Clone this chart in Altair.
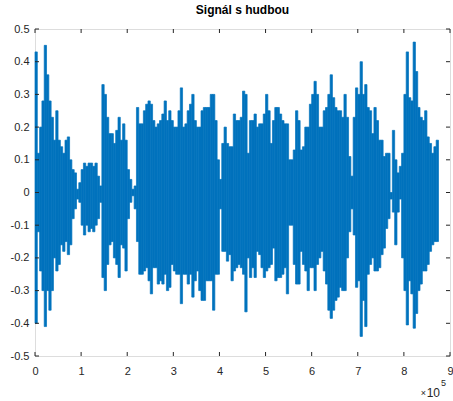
import altair as alt
import pandas as pd

# Envelope of the waveform, one reading per 5000 samples
SAMPLE_STEP = 5000
upper = [0.43, 0.12, 0.20, 0.28, 0.45, 0.36, 0.28, 0.23, 0.16, 0.25,
         0.16, 0.14, 0.12, 0.16, 0.17, 0.10, 0.07, 0.06, 0.01, 0.03,
         0.07, 0.09, 0.08, 0.09, 0.09, 0.08, 0.09, 0.05, 0.02, 0.33,
         0.30, 0.23, 0.18, 0.18, 0.15, 0.19, 0.23, 0.16, 0.21, 0.16,
         0.07, 0.04, 0.01, 0.02, 0.26, 0.21, 0.21, 0.25, 0.27, 0.28,
         0.27, 0.22, 0.20, 0.21, 0.22, 0.24, 0.28, 0.22, 0.25, 0.22,
         0.20, 0.20, 0.25, 0.32, 0.20, 0.21, 0.25, 0.27, 0.30, 0.22,
         0.20, 0.20, 0.25, 0.26, 0.26, 0.26, 0.30, 0.30, 0.22, 0.10,
         0.04, 0.15, 0.20, 0.15, 0.14, 0.14, 0.24, 0.22, 0.22, 0.23,
         0.31, 0.30, 0.12, 0.22, 0.22, 0.24, 0.20, 0.21, 0.21, 0.24,
         0.30, 0.25, 0.15, 0.22, 0.26, 0.26, 0.24, 0.22, 0.21, 0.21,
         0.10, 0.10, 0.13, 0.25, 0.22, 0.13, 0.14, 0.20, 0.20, 0.27,
         0.30, 0.34, 0.30, 0.20, 0.20, 0.25, 0.26, 0.30, 0.36, 0.29,
         0.26, 0.25, 0.25, 0.23, 0.30, 0.23, 0.11, 0.05, 0.23, 0.32,
         0.30, 0.40, 0.30, 0.33, 0.26, 0.25, 0.18, 0.26, 0.22, 0.16,
         0.16, 0.11, 0.12, 0.12, 0.00, 0.19, 0.10, 0.06, 0.08, 0.12,
         0.30, 0.43, 0.29, 0.28, 0.46, 0.37, 0.26, 0.23, 0.22, 0.25,
         0.17, 0.15, 0.12, 0.14, 0.16]
lower = [-0.40, -0.12, -0.24, -0.30, -0.41, -0.30, -0.36, -0.30, -0.20, -0.24,
         -0.22, -0.16, -0.18, -0.15, -0.19, -0.16, -0.08, -0.05, -0.02, -0.03,
         -0.10, -0.13, -0.10, -0.12, -0.11, -0.12, -0.10, -0.08, -0.03, -0.26,
         -0.30, -0.22, -0.16, -0.15, -0.20, -0.22, -0.26, -0.16, -0.17, -0.24,
         -0.08, -0.03, -0.01, -0.05, -0.15, -0.25, -0.25, -0.24, -0.23, -0.27,
         -0.31, -0.23, -0.23, -0.28, -0.27, -0.28, -0.25, -0.30, -0.29, -0.22,
         -0.24, -0.25, -0.25, -0.34, -0.25, -0.25, -0.28, -0.25, -0.32, -0.27,
         -0.24, -0.30, -0.33, -0.33, -0.27, -0.27, -0.27, -0.36, -0.25, -0.25,
         -0.05, -0.18, -0.18, -0.21, -0.19, -0.27, -0.24, -0.23, -0.22, -0.23,
         -0.25, -0.365, -0.20, -0.26, -0.23, -0.26, -0.18, -0.19, -0.23, -0.26,
         -0.24, -0.23, -0.22, -0.17, -0.27, -0.26, -0.26, -0.25, -0.23, -0.31,
         -0.10, -0.10, -0.22, -0.28, -0.28, -0.18, -0.22, -0.24, -0.30, -0.23,
         -0.23, -0.30, -0.22, -0.20, -0.18, -0.24, -0.28, -0.36, -0.385, -0.36,
         -0.33, -0.32, -0.29, -0.30, -0.30, -0.20, -0.12, -0.05, -0.13, -0.29,
         -0.27, -0.44, -0.33, -0.41, -0.25, -0.22, -0.20, -0.24, -0.24, -0.23,
         -0.19, -0.17, -0.11, -0.08, -0.02, -0.06, -0.16, -0.06, -0.02, -0.20,
         -0.30, -0.405, -0.27, -0.31, -0.415, -0.37, -0.30, -0.28, -0.24, -0.24,
         -0.22, -0.18, -0.16, -0.15, -0.15]

x_ticks = [0, 100000, 200000, 300000, 400000, 500000, 600000, 700000, 800000, 900000]
y_ticks = [-0.5, -0.4, -0.3, -0.2, -0.1, 0.0, 0.1, 0.2, 0.3, 0.4, 0.5]
title_text = "Signál s hudbou"
exp_times = "×"
exp_base = "10"
exp_power = "5"

W, H = 415, 327
BLUE = "#0072BD"
AX = "#262626"
FONT = "Liberation Sans"

# each bin of samples drawn from its lowest to its highest reading
df = pd.DataFrame({
    "s0": [i * SAMPLE_STEP for i in range(len(upper))],
    "s1": [(i + 1) * SAMPLE_STEP for i in range(len(upper))],
    "hi": upper,
    "lo": lower,
})

xscale = alt.Scale(domain=[0, 900000], nice=False, zero=False)
yscale = alt.Scale(domain=[-0.5, 0.5], nice=False, zero=False)

xaxis = alt.Axis(values=x_ticks, title=None, grid=False, ticks=False, domain=False,
                 labelExpr="toString(round(datum.value / 100000))",
                 labelFlush=False, labelOverlap=False, labelBound=False,
                 labelFont=FONT, labelFontSize=11, labelColor=AX, labelPadding=9)
yaxis = alt.Axis(values=y_ticks, title=None, grid=False, ticks=False, domain=False,
                 labelExpr="datum.value == 0 ? '0' : toString(round(datum.value * 10) / 10)",
                 labelFlush=False, labelOverlap=False, labelBound=False,
                 labelFont=FONT, labelFontSize=11, labelColor=AX, labelPadding=6)

wave = alt.Chart(df).mark_bar(color=BLUE, opacity=1, stroke=BLUE, strokeWidth=0.7).encode(
    x=alt.X("s0:Q", scale=xscale, axis=xaxis),
    x2="s1:Q",
    y=alt.Y("hi:Q", scale=yscale, axis=yaxis),
    y2="lo:Q",
)

xt = pd.DataFrame({"s0": x_ticks})
yt = pd.DataFrame({"hi": y_ticks})
tick_bottom = alt.Chart(xt).mark_rule(color=AX, strokeWidth=1).encode(
    x=alt.X("s0:Q", scale=xscale, axis=xaxis), y=alt.value(H), y2=alt.value(H - 4))
tick_top = alt.Chart(xt).mark_rule(color=AX, strokeWidth=1).encode(
    x=alt.X("s0:Q", scale=xscale, axis=xaxis), y=alt.value(0), y2=alt.value(4))
tick_left = alt.Chart(yt).mark_rule(color=AX, strokeWidth=1).encode(
    y=alt.Y("hi:Q", scale=yscale, axis=yaxis), x=alt.value(0), x2=alt.value(4))
tick_right = alt.Chart(yt).mark_rule(color=AX, strokeWidth=1).encode(
    y=alt.Y("hi:Q", scale=yscale, axis=yaxis), x=alt.value(W), x2=alt.value(W - 4))

exp0 = alt.Chart(pd.DataFrame({"t": [exp_times]})).mark_text(
    font=FONT, fontSize=9, color=AX, align="right", baseline="alphabetic").encode(
    text="t:N", x=alt.value(W - 24), y=alt.value(H + 40))
exp1 = alt.Chart(pd.DataFrame({"t": [exp_base]})).mark_text(
    font=FONT, fontSize=12, color=AX, align="right", baseline="alphabetic").encode(
    text="t:N", x=alt.value(W - 10), y=alt.value(H + 41))
exp2 = alt.Chart(pd.DataFrame({"t": [exp_power]})).mark_text(
    font=FONT, fontSize=9, color=AX, align="left", baseline="alphabetic").encode(
    text="t:N", x=alt.value(W - 9), y=alt.value(H + 30))

chart = alt.layer(wave, tick_bottom, tick_top, tick_left, tick_right, exp0, exp1, exp2).properties(
    width=W, height=H,
    title=alt.TitleParams(title_text, fontSize=12, fontWeight="bold", font=FONT,
                          color="#000000", anchor="middle", offset=6),
    autosize=alt.AutoSizeParams(type="none"),
    padding={"left": 35, "top": 29, "right": 3, "bottom": 45},
).configure_view(stroke=AX, strokeWidth=1).configure(background="white")

chart.save("out.html", embed_options={"renderer": "svg", "actions": False})
